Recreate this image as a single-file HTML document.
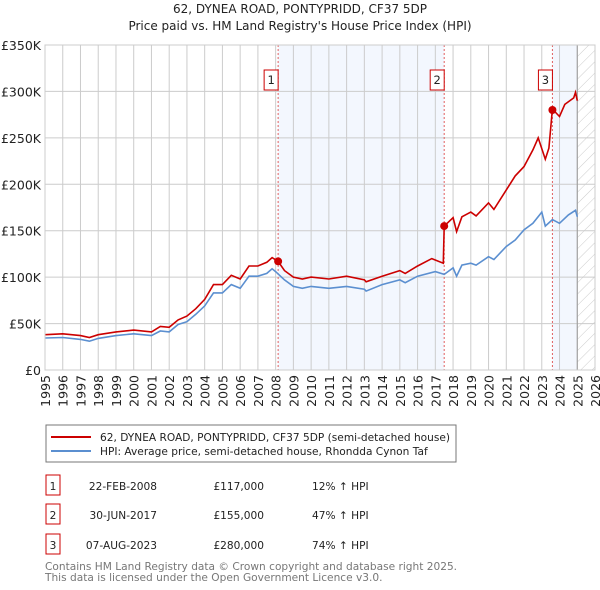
<!DOCTYPE html>
<html><head><meta charset="utf-8"><style>
body{margin:0;background:#fff;font-family:"DejaVu Sans","Liberation Sans",sans-serif;}
#wrap{position:relative;width:600px;height:590px;overflow:hidden}
</style></head><body><div id="wrap">
<svg id="chart" width="600" height="590" xmlns="http://www.w3.org/2000/svg" font-family="DejaVu Sans, Liberation Sans, sans-serif">
<defs><pattern id="hatch" width="8" height="8" patternUnits="userSpaceOnUse" patternTransform="rotate(45)"><line x1="0" y1="0" x2="0" y2="8" stroke="#ccc" stroke-width="1"/></pattern></defs>
<text x="300" y="13" text-anchor="middle" font-size="12" fill="#222">62, DYNEA ROAD, PONTYPRIDD, CF37 5DP</text>
<text x="300" y="30" text-anchor="middle" font-size="12" fill="#222">Price paid vs. HM Land Registry's House Price Index (HPI)</text>
<g id="plot"></g>
<g>
<rect x="46" y="425" width="410" height="37" fill="#fff" stroke="#777"/>
<line x1="51" y1="437" x2="91" y2="437" stroke="#cc0000" stroke-width="2"/>
<text x="100" y="441" font-size="10.6" fill="#222">62, DYNEA ROAD, PONTYPRIDD, CF37 5DP (semi-detached house)</text>
<line x1="51" y1="451" x2="91" y2="451" stroke="#5b8fd0" stroke-width="2"/>
<text x="100" y="455" font-size="10.6" fill="#222">HPI: Average price, semi-detached house, Rhondda Cynon Taf</text>
</g>
<g id="table" font-size="10.6" fill="#222"></g>
<text x="45" y="570" font-size="10.6" fill="#777">Contains HM Land Registry data © Crown copyright and database right 2025.</text>
<text x="45" y="581" font-size="10.6" fill="#777">This data is licensed under the Open Government Licence v3.0.</text>
</svg>
</div>
<script>
const hpiYears=[1995,1996,1997,1997.5,1998,1999,2000,2001,2001.5,2002,2002.5,2003,2003.5,2004,2004.5,2005,2005.5,2006,2006.5,2007,2007.5,2007.8,2008,2008.5,2009,2009.5,2010,2011,2012,2013,2013.1,2014,2015,2015.3,2016,2017,2017.5,2018,2018.2,2018.5,2019,2019.3,2020,2020.3,2021,2021.5,2022,2022.5,2023,2023.2,2023.6,2024,2024.5,2024.9,2025];
const hpiValues=[34500,35000,33000,31000,34000,37000,39000,37000,42000,41000,49000,52000,60000,69000,83000,83000,92000,88000,101000,101000,104000,109000,106000,97000,90000,88000,90000,88000,90000,87000,85000,92000,97000,94000,101000,106000,103000,110000,101000,113000,115000,113000,122000,119000,133000,140000,151000,158000,170000,155000,162000,158000,167000,172000,165000];
const redYears=[1995,1996,1997,1997.5,1998,1999,2000,2001,2001.5,2002,2002.5,2003,2003.5,2004,2004.5,2005,2005.5,2006,2006.5,2007,2007.5,2007.8,2008.14,2008.5,2009,2009.5,2010,2011,2012,2013,2013.1,2014,2015,2015.3,2016,2016.8,2017.45,2017.5,2018,2018.2,2018.5,2019,2019.3,2020,2020.3,2021,2021.5,2022,2022.5,2022.8,2023.2,2023.4,2023.6,2024,2024.3,2024.8,2024.9,2025];
const redValues=[38000,39000,37000,35000,38000,41000,43000,41000,47000,46000,54000,58000,66000,76000,92000,92000,102000,98000,112000,112000,116000,121000,117000,107000,100000,98000,100000,98000,101000,97000,95000,101000,107000,104000,112000,120000,115000,155000,164000,149000,165000,170000,166000,180000,173000,194000,209000,219000,237000,250000,227000,239000,281000,273000,286000,293000,299000,290000];
const saleYears=[2008.14,2017.5,2023.6];
const saleValues=[117000,155000,280000];
const saleDates=["22-FEB-2008","30-JUN-2017","07-AUG-2023"];
const salePrices=["£117,000","£155,000","£280,000"];
const saleHpi=["12% ↑ HPI","47% ↑ HPI","74% ↑ HPI"];
const yTicks=[0,50000,100000,150000,200000,250000,300000,350000];
const yTickLabels=["£0","£50K","£100K","£150K","£200K","£250K","£300K","£350K"];
const xTicks=[1995,1996,1997,1998,1999,2000,2001,2002,2003,2004,2005,2006,2007,2008,2009,2010,2011,2012,2013,2014,2015,2016,2017,2018,2019,2020,2021,2022,2023,2024,2025,2026];

const NS="http://www.w3.org/2000/svg";
const L=45,R=595,T=45,B=370;
const xS=y=>L+(y-1995)/(2026-1995)*(R-L);
const yS=v=>B-v/350000*(B-T);
const plot=document.getElementById('plot');
function mk(tag,attrs,parent){const e=document.createElementNS(NS,tag);for(const k in attrs)e.setAttribute(k,attrs[k]);(parent||plot).appendChild(e);return e;}

let e;
e=mk('rect',{x:xS(saleYears[0]),y:T,width:xS(saleYears[1])-xS(saleYears[0]),height:B-T,fill:'#eef3fd',opacity:0.7});


e=mk('rect',{x:xS(saleYears[2]),y:T,width:xS(2025)-xS(saleYears[2]),height:B-T,fill:'#eef3fd',opacity:0.7});


e=mk('rect',{x:xS(2025),y:T,width:xS(2026)-xS(2025),height:B-T,fill:'url(#hatch)'});



yTicks.forEach((v,i)=>{
  e=mk('line',{x1:L,x2:R,y1:yS(v),y2:yS(v),stroke:'#ccc','stroke-width':1});
  
  
  e=mk('text',{x:L-4,y:yS(v)+5,'text-anchor':'end','font-size':12.5,fill:'#222'});
  e.textContent=yTickLabels[i];
  
  
});
xTicks.forEach(yr=>{
  e=mk('line',{x1:xS(yr),x2:xS(yr),y1:T,y2:B,stroke:'#ccc','stroke-width':1});
  
  
  e=mk('text',{x:0,y:0,'text-anchor':'end','font-size':12.5,fill:'#222',transform:`translate(${xS(yr)+5},${B+5}) rotate(-90)`});
  e.textContent=yr;
  
  
});
e=mk('line',{x1:xS(2025),x2:xS(2025),y1:T,y2:B,stroke:'#999','stroke-width':1});



saleYears.forEach((yr,i)=>{
  e=mk('line',{x1:xS(yr),x2:xS(yr),y1:T,y2:B,stroke:'#e06060','stroke-width':1,'stroke-dasharray':'2,2'});
  
  
});

const pts=(xs,vs)=>xs.map((x,i)=>xS(x).toFixed(1)+','+yS(vs[i]).toFixed(1)).join(' ');
e=mk('polyline',{points:pts(hpiYears,hpiValues),fill:'none',stroke:'#5b8fd0','stroke-width':1.6});


e=mk('polyline',{points:pts(redYears,redValues),fill:'none',stroke:'#cc0000','stroke-width':1.6});


saleYears.forEach((yr,i)=>{
  e=mk('circle',{cx:xS(yr),cy:yS(saleValues[i]),r:4,fill:'#cc0000'});
  
  
  const bx=xS(yr)-18;
  e=mk('rect',{x:bx+4,y:70,width:14,height:20,fill:'#fff',stroke:'#cc0000','stroke-width':1});
  
  
  e=mk('text',{x:bx+11,y:84,'text-anchor':'middle','font-size':11.5,fill:'#222'});
  e.textContent=String(i+1);
  
  
});
e=mk('rect',{x:L,y:T,width:R-L,height:B-T,fill:'none',stroke:'#ccc'});



const tbl=document.getElementById('table');
const rowsY=[486,515,545];
saleDates.forEach((d,i)=>{
  const y=rowsY[i];
  e=mk('rect',{x:46,y:y-11,width:14,height:20,fill:'#fff',stroke:'#cc0000'},tbl);
  
  
  e=mk('text',{x:53,y:y+4,'text-anchor':'middle'},tbl);e.textContent=String(i+1);
  
  
  e=mk('text',{x:157,y:y+4,'text-anchor':'end'},tbl);e.textContent=d;
  
  
  e=mk('text',{x:264,y:y+4,'text-anchor':'end'},tbl);e.textContent=salePrices[i];
  
  
  e=mk('text',{x:312,y:y+4},tbl);e.textContent=saleHpi[i];
  
  
});
</script></body></html>
